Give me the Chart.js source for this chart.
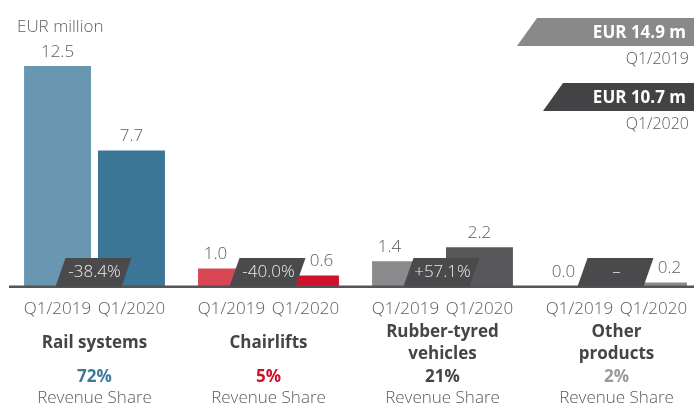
<!DOCTYPE html>
<html>
<head>
<meta charset="utf-8">
<script src="https://cdn.jsdelivr.net/npm/chart.js@4/dist/chart.umd.min.js"></script>
<style>
  html, body { margin: 0; padding: 0; background: #fff; overflow: hidden; width: 694px; height: 405px; }
  #wrap { position: absolute; left: 0; top: 0; width: 712px; height: 405px; }
</style>
</head>
<body>
<div id="wrap"><canvas id="c" width="712" height="405"></canvas></div>
<script>
// ---- data ----
const categories = ['Rail systems', 'Chairlifts', ['Rubber-tyred', 'vehicles'], ['Other', 'products']];
const periods = ['Q1/2019', 'Q1/2020'];
const values2019 = [12.5, 1.0, 1.4, 0.0];
const values2020 = [7.7, 0.6, 2.2, 0.2];
const changeLabels = ['-38.4%', '-40.0%', '+57.1%', '–'];
const revenueShares = ['72%', '5%', '21%', '2%'];
const shareCaption = 'Revenue Share';
const totals = ['EUR 14.9 m', 'EUR 10.7 m'];
const unitLabel = 'EUR million';

// ---- styles ----
const colors2019 = ['#6996b0', '#d84553', '#8a8a8c', '#8a8a8c'];
const colors2020 = ['#3b7696', '#d0102c', '#58585a', '#8a8a8c'];
const shareColors = ['#3b7a9c', '#d0102c', '#444446', '#9a9a9a'];
const legendColors = ['#89898b', '#434345'];
const FONT = '"Open Sans", "Liberation Sans", sans-serif';

const overlay = {
  id: 'overlay',
  afterDatasetsDraw(chart) {
    const ctx = chart.ctx;
    const area = chart.chartArea;
    const x = chart.scales.x;
    const y = chart.scales.y;
    const base = y.getPixelForValue(0);
    ctx.save();

    // axis line
    ctx.fillStyle = '#555557';
    ctx.fillRect(9, base - 0.5, 700, 2.5);

    const badgeTop = base - 28;
    const m0 = chart.getDatasetMeta(0);
    const m1 = chart.getDatasetMeta(1);

    categories.forEach((cat, i) => {
      const cx = x.getPixelForValue(i) - 1;
      // change badge
      ctx.fillStyle = '#4a4a4c';
      ctx.beginPath();
      ctx.moveTo(cx - 28, badgeTop);
      ctx.lineTo(cx + 38, badgeTop);
      ctx.lineTo(cx + 28, base + 0.5);
      ctx.lineTo(cx - 38, base + 0.5);
      ctx.closePath();
      ctx.fill();
      ctx.fillStyle = '#ececec';
      ctx.font = '300 17px ' + FONT;
      ctx.textAlign = 'center';
      ctx.textBaseline = 'middle';
      ctx.fillText(changeLabels[i], cx + 1, badgeTop + 14);

      // value labels
      [[m0, values2019, -1], [m1, values2020, 1]].forEach(([meta, vals, dir]) => {
        const bar = meta.data[i];
        let lx = bar.x;
        if (bar.y > badgeTop - 2) lx += dir * 16;
        ctx.fillStyle = '#5a5a5c';
        ctx.font = '300 17px ' + FONT;
        ctx.textAlign = 'center';
        ctx.textBaseline = 'alphabetic';
        ctx.fillText(vals[i].toFixed(1), lx, bar.y - 9);
        // period tick labels
        ctx.textBaseline = 'middle';
        ctx.fillText(periods[dir < 0 ? 0 : 1], bar.x, 309);
      });

      const ccx = x.getPixelForValue(i);
      // category name
      const lines = Array.isArray(cat) ? cat : [cat];
      ctx.fillStyle = '#454547';
      ctx.font = 'bold 17px ' + FONT;
      ctx.textBaseline = 'middle';
      const mid = 343;
      lines.forEach((ln, k) => {
        ctx.fillText(ln, ccx, mid + (k - (lines.length - 1) / 2) * 22);
      });
      // share
      ctx.fillStyle = shareColors[i];
      ctx.font = 'bold 17px ' + FONT;
      ctx.fillText(revenueShares[i], ccx, 377);
      ctx.fillStyle = '#5a5a5c';
      ctx.font = '300 17px ' + FONT;
      ctx.fillText(shareCaption, ccx, 398);
    });

    // unit label
    ctx.fillStyle = '#606062';
    ctx.font = '300 17px ' + FONT;
    ctx.textAlign = 'left';
    ctx.textBaseline = 'middle';
    ctx.fillText(unitLabel, 17, 27);

    // totals legend
    const legTops = [18, 83];
    const legLeft = [537, 563];
    legTops.forEach((t, k) => {
      ctx.fillStyle = legendColors[k];
      ctx.beginPath();
      ctx.moveTo(legLeft[k], t);
      ctx.lineTo(700, t);
      ctx.lineTo(700, t + 28);
      ctx.lineTo(legLeft[k] - 20, t + 28);
      ctx.closePath();
      ctx.fill();
      ctx.fillStyle = '#ffffff';
      ctx.font = 'bold 17px ' + FONT;
      ctx.textAlign = 'right';
      ctx.textBaseline = 'middle';
      ctx.fillText(totals[k], 686, t + 15);
      ctx.fillStyle = '#5a5a5c';
      ctx.font = '300 16px ' + FONT;
      ctx.fillText(periods[k], 689, t + 41);
    });

    ctx.restore();
  }
};

new Chart(document.getElementById('c'), {
  type: 'bar',
  data: {
    labels: categories.map(c => Array.isArray(c) ? c.join(' ') : c),
    datasets: [
      { label: periods[0], data: values2019, backgroundColor: colors2019, borderWidth: 0 },
      { label: periods[1], data: values2020, backgroundColor: colors2020, borderWidth: 0 }
    ]
  },
  options: {
    responsive: false,
    animation: false,
    devicePixelRatio: 1,
    layout: { padding: { left: 7.5, right: 8.5, top: 22, bottom: 119 } },
    categoryPercentage: 0.85,
    barPercentage: 0.905,
    plugins: { legend: { display: false }, tooltip: { enabled: false } },
    scales: {
      x: { display: false },
      y: { display: false, min: 0, max: 15 }
    }
  },
  plugins: [overlay]
});
</script>
</body>
</html>
